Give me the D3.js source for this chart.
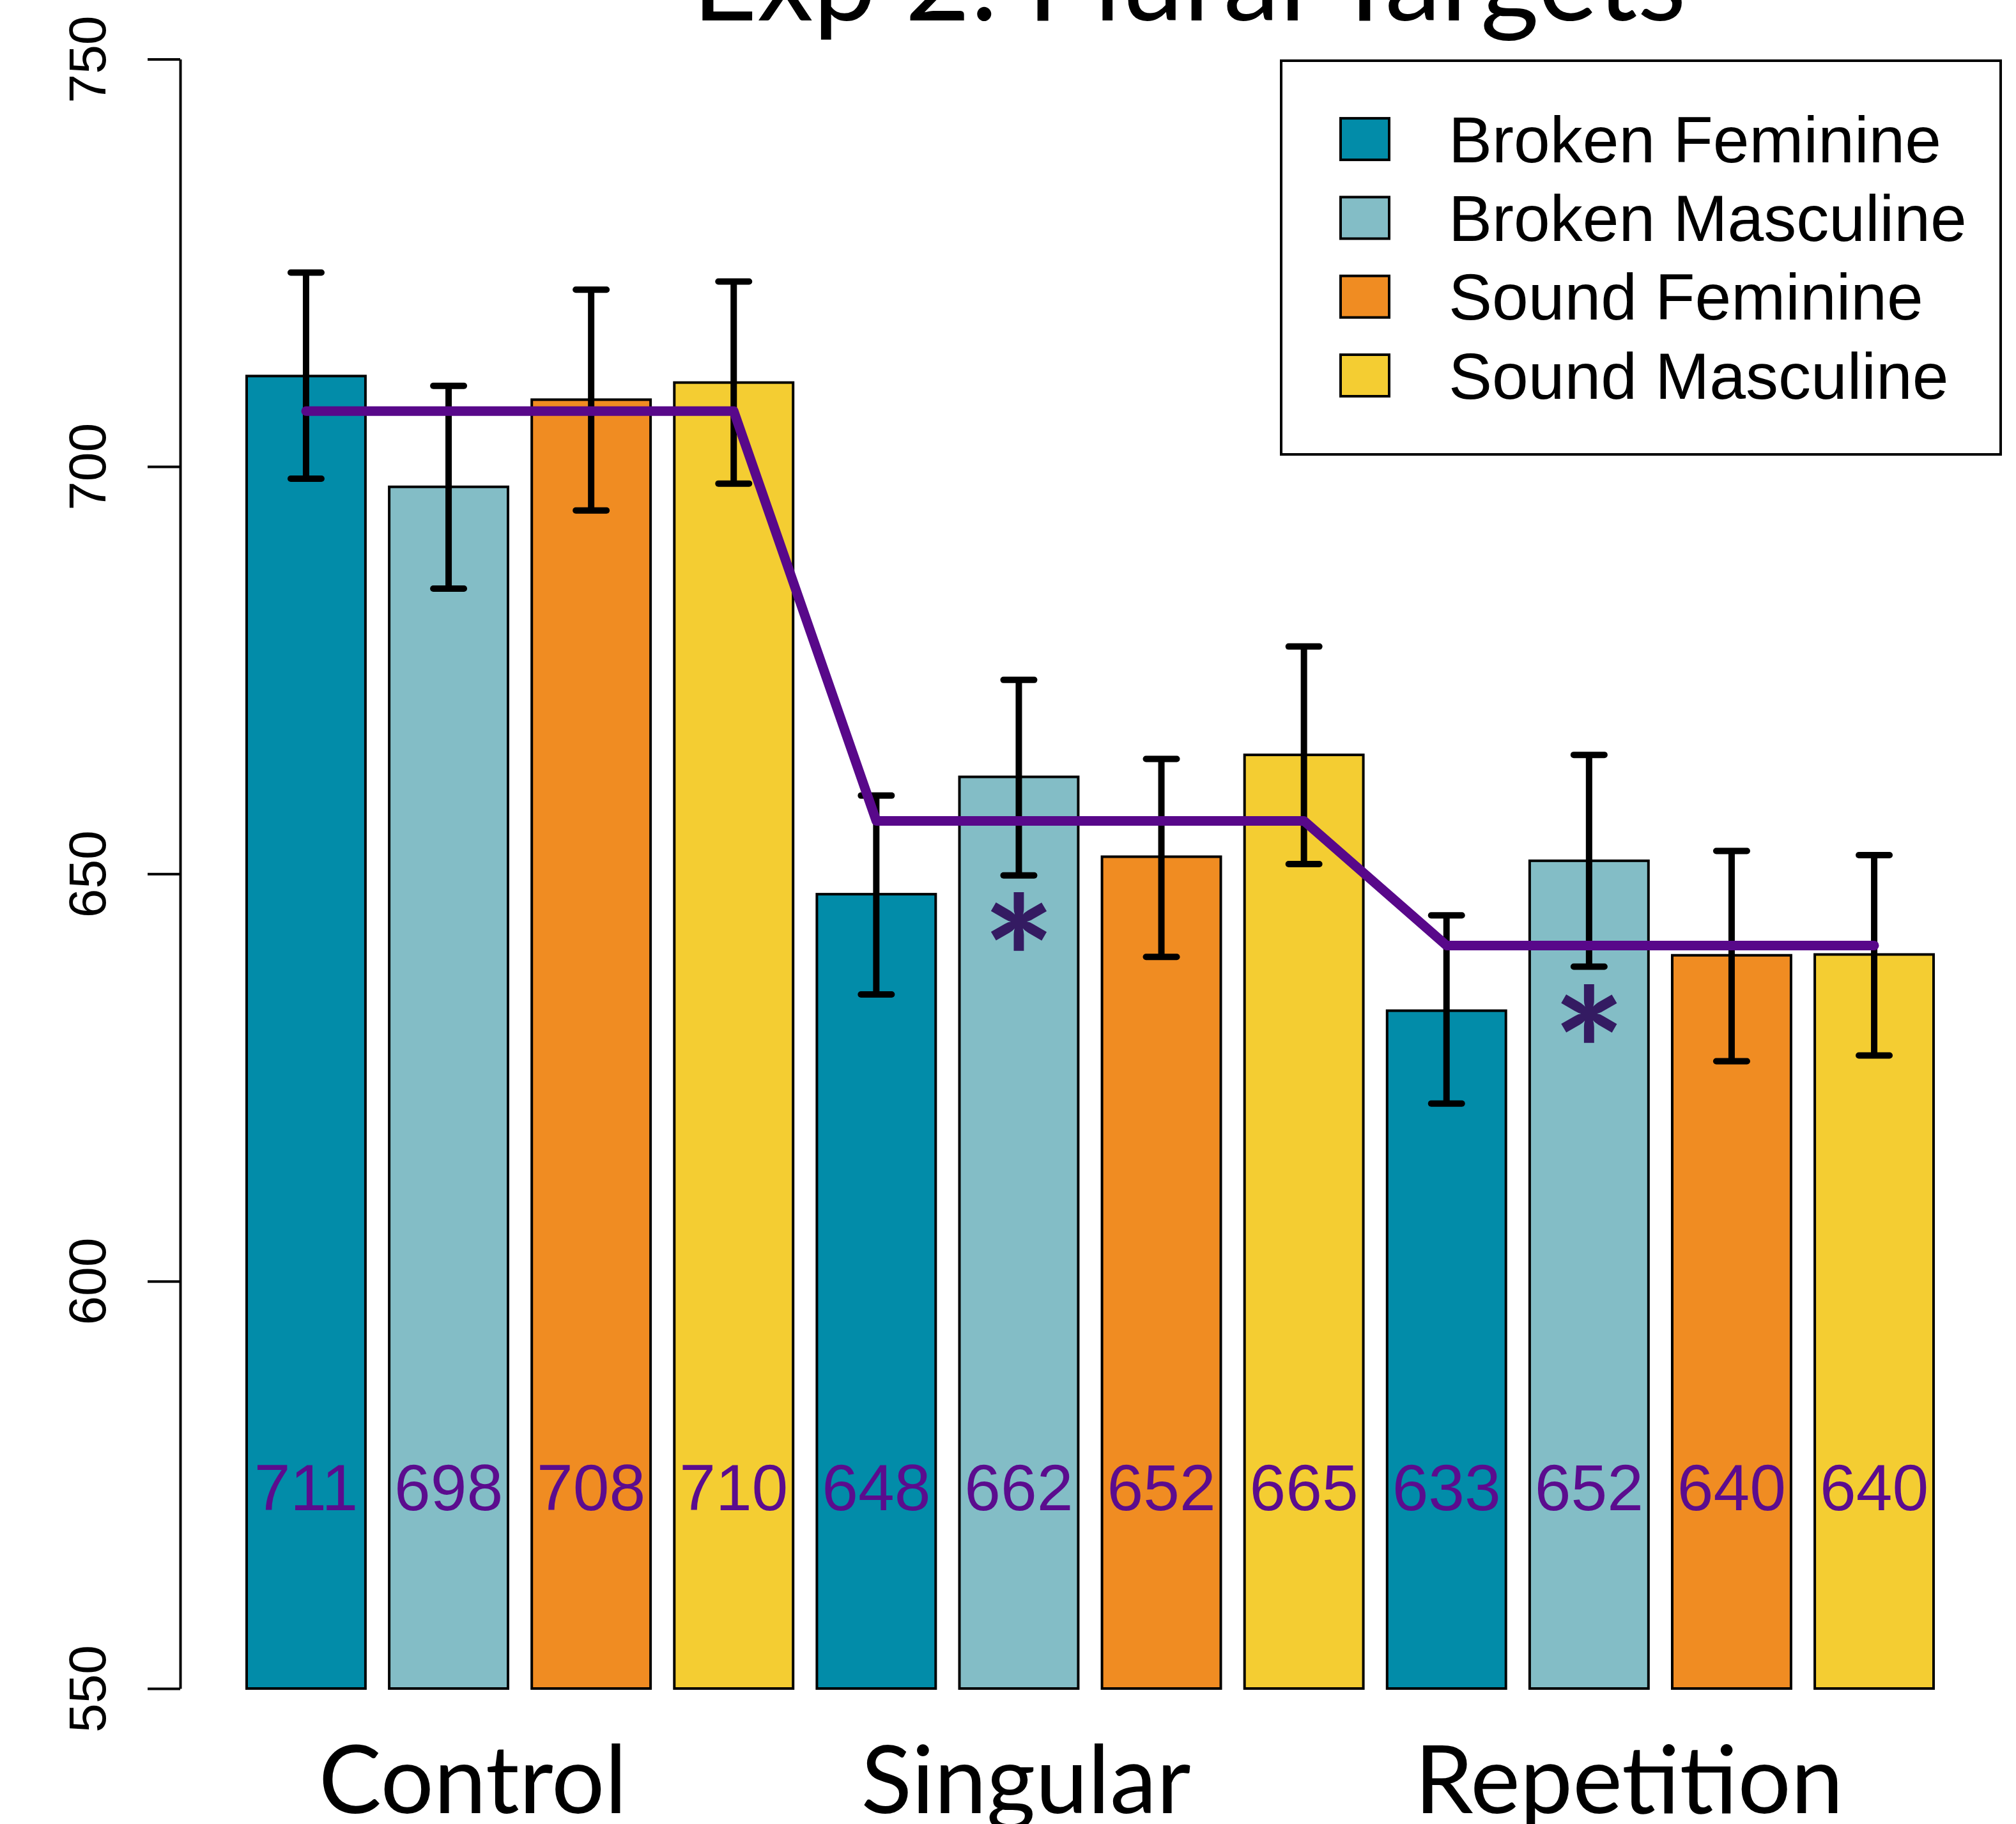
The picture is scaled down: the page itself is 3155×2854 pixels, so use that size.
<!DOCTYPE html>
<html>
<head>
<meta charset="utf-8">
<script src="https://cdn.jsdelivr.net/npm/d3@7"></script>
<style>
  body { margin: 0; background: #fff; }
  svg { display: block; }
</style>
</head>
<body>
<svg id="chart" width="3155" height="2854"></svg>
<script>
// data
const conditions = ["Control", "Singular", "Repetition"];
const pluralTypes = ["Broken Feminine", "Broken Masculine", "Sound Feminine", "Sound Masculine"];
const typeColors = ["#028ca9", "#83bdc6", "#f08c22", "#f4cd32"];
const meanRT = [711.1, 697.5, 708.2, 710.3, 647.5, 661.9, 652.1, 664.6, 633.2, 651.6, 640.0, 640.1];
const errHigh = [723.8, 709.9, 721.7, 722.7, 659.6, 673.8, 664.1, 677.9, 644.9, 664.6, 652.8, 652.3];
const errLow = [698.5, 685.0, 694.6, 697.9, 635.2, 649.8, 639.8, 651.2, 621.8, 638.6, 627.0, 627.7];
const conditionMeans = [706.8, 656.5, 641.2];
const yTicks = [550, 600, 650, 700, 750];
const starBars = [5, 9];
const starY = [644.4, 633.1];
const conditionLabelAt = [1.17, 5.05, 9.28]; // in bar-index units

const svg = d3.select("#chart");
const purple = "#58088a";

const x = d3.scaleBand()
    .domain(d3.range(meanRT.length))
    .range([386, 3026])
    .paddingInner(1 / 6)
    .paddingOuter(0);
const bw = x.bandwidth();
const cx = i => x(i) + bw / 2;
const idx = d3.scaleLinear().domain([0, 11]).range([cx(0), cx(11)]);

const y = d3.scaleLinear()
    .domain([550, 750])
    .range([2642, 92.5]);

// title
svg.append("text")
    .attr("x", 1861)
    .attr("y", 32)
    .attr("text-anchor", "middle")
    .style("font-family", "Lato")
    .style("font-size", "176px")
    .text("Exp 2: Plural Targets");

// y axis
const yAxis = svg.append("g")
    .attr("transform", "translate(282,0)")
    .call(d3.axisLeft(y).tickValues(yTicks).tickSize(51).tickSizeOuter(0));
yAxis.select(".domain").attr("stroke-width", 4);
yAxis.selectAll(".tick line").attr("stroke-width", 4);
yAxis.selectAll(".tick text")
    .attr("x", null)
    .attr("dy", null)
    .attr("transform", "translate(-117,0) rotate(-90)")
    .attr("text-anchor", "middle")
    .style("font-family", "Liberation Sans")
    .style("font-size", "82px")
    .attr("fill", "#000");

// bars
svg.append("g").selectAll("rect")
    .data(meanRT)
    .enter()
    .append("rect")
    .attr("x", (d, i) => x(i))
    .attr("y", d => y(d))
    .attr("width", bw)
    .attr("height", d => y(550) - y(d))
    .attr("fill", (d, i) => typeColors[i % 4])
    .attr("stroke", "#000")
    .attr("stroke-width", 4);

// error bars
const eb = svg.append("g").attr("stroke", "#000").attr("stroke-width", 10);
meanRT.forEach(function (d, i) {
    eb.append("line")
        .attr("x1", cx(i)).attr("x2", cx(i))
        .attr("y1", y(errLow[i])).attr("y2", y(errHigh[i]));
    [errLow[i], errHigh[i]].forEach(function (v) {
        eb.append("line")
            .attr("x1", cx(i) - 24).attr("x2", cx(i) + 24)
            .attr("y1", y(v)).attr("y2", y(v))
            .attr("stroke-linecap", "round");
    });
});

// condition mean line
const linePts = [];
conditionMeans.forEach(function (m, g) {
    linePts.push([cx(4 * g), y(m)]);
    linePts.push([cx(4 * g + 3), y(m)]);
});
svg.append("path")
    .attr("d", d3.line()(linePts))
    .attr("fill", "none")
    .attr("stroke", purple)
    .attr("stroke-width", 15)
    .attr("stroke-linecap", "round")
    .attr("stroke-linejoin", "round");

// asterisks
svg.append("g").selectAll("text")
    .data(starBars)
    .enter()
    .append("text")
    .attr("x", d => cx(d))
    .attr("y", (d, i) => y(starY[i]))
    .attr("dy", "0.6em")
    .attr("text-anchor", "middle")
    .attr("fill", "#341b62")
    .style("font-family", "Lato")
    .style("font-weight", "bold")
    .style("font-size", "270px")
    .text("*");

// value labels
svg.append("g").selectAll("text")
    .data(meanRT)
    .enter()
    .append("text")
    .attr("x", (d, i) => cx(i))
    .attr("y", y(571.9))
    .attr("text-anchor", "middle")
    .attr("fill", "#5b0c8e")
    .style("font-family", "Liberation Sans")
    .style("font-size", "102px")
    .text(d => Math.round(d));

// condition labels
svg.append("g").selectAll("text")
    .data(conditions)
    .enter()
    .append("text")
    .attr("x", (d, i) => idx(conditionLabelAt[i]))
    .attr("y", 2837)
    .attr("text-anchor", "middle")
    .style("font-family", "Lato")
    .style("font-size", "147px")
    .text(d => d);

// legend
const legend = svg.append("g");
legend.append("rect")
    .attr("x", 2005).attr("y", 95)
    .attr("width", 1126).attr("height", 616)
    .attr("fill", "#fff")
    .attr("stroke", "#000")
    .attr("stroke-width", 4);
const item = legend.selectAll("g.item")
    .data(pluralTypes)
    .enter()
    .append("g")
    .attr("class", "item")
    .attr("transform", (d, i) => "translate(0," + (217.6 + 123.3 * i) + ")");
item.append("rect")
    .attr("x", 2098).attr("y", -32.5)
    .attr("width", 76).attr("height", 65)
    .attr("fill", (d, i) => typeColors[i])
    .attr("stroke", "#000")
    .attr("stroke-width", 4);
item.append("text")
    .attr("x", 2267)
    .attr("y", 36)
    .style("font-family", "Liberation Sans")
    .style("font-size", "102px")
    .text(d => d);
</script>
</body>
</html>
